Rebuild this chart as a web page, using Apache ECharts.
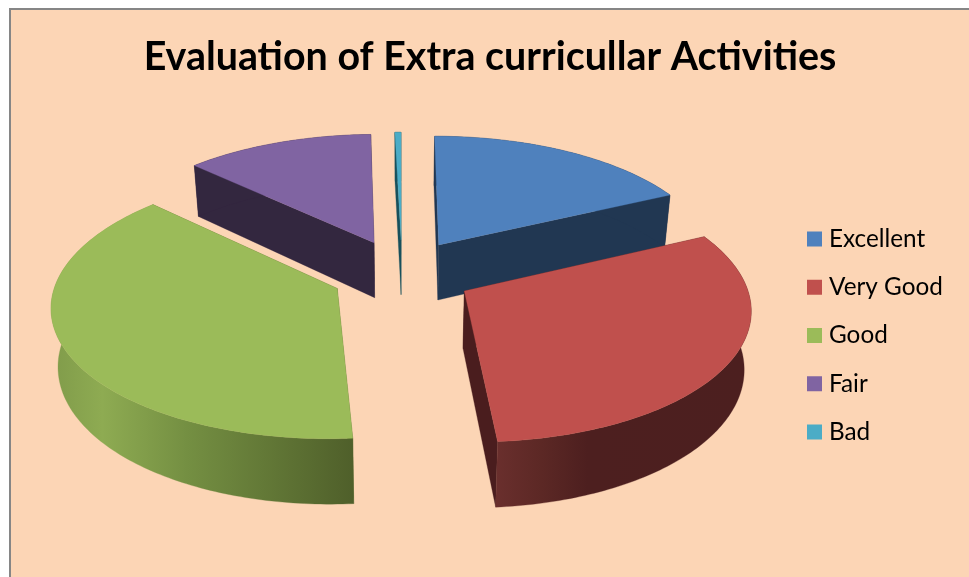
<!DOCTYPE html>
<html>
<head>
<meta charset="utf-8">
<style>html,body{margin:0;padding:0;background:#fff}#main{width:969px;height:577px}</style>
<script src="https://cdn.jsdelivr.net/npm/echarts@6/dist/echarts.min.js"></script>
</head>
<body>
<div id="main"></div>
<script>
const titleText = 'Evaluation of Extra curricullar Activities';
const categories = ['Excellent', 'Very Good', 'Good', 'Fair', 'Bad'];
const shares = [17.9, 30.9, 38.3, 12.5, 0.4];
const topColors = ['#4F81BD', '#C0504D', '#9BBB59', '#8064A2', '#4BACC6'];
const wallColors = ['#213752', '#4A1D1E', '#5A6C30', '#33273F', '#17505C'];
const drawOrder = [3, 4, 0, 2, 1];

const arcStops = {
  1: [[0, '#6A2F2D'], [0.18, '#5C2825'], [0.36, '#4D1F1F'], [1, '#4C1F1F']],
  2: [[0, '#809B4A'], [0.17, '#8EAB52'], [0.45, '#748F42'], [1, '#4F5F2A']]
};

// Perspective view of the exploded pie
const D = 2330, R = 278, RX = 0.993, EXPLODE_X = 70, EXPLODE_Y = 75, CX = 400, HORIZON = -790, H = 1052;
const THICK = 56, TAPER = 0.02, OFFX = 2, OFFY = 25;

function project(X, Y, low) {
  const s = D / (D - Y);
  const x = CX + X * s;
  if (!low) return [x, HORIZON + H * s];
  return [CX + (x - CX) * (1 - TAPER), HORIZON + (H + THICK) * s];
}

function renderSlice(index) {
  return function (params, api) {
    const total = shares.reduce((a, b) => a + b, 0);
    const before = shares.slice(0, index).reduce((a, b) => a + b, 0);
    const a0 = before / total * 2 * Math.PI;
    const a1 = a0 + api.value(0) / total * 2 * Math.PI;
    const mid = (a0 + a1) / 2;
    const ox = OFFX + EXPLODE_X * Math.sin(mid);
    const oy = OFFY - EXPLODE_Y * Math.cos(mid);
    const pt = (a, low) => project(ox + RX * R * Math.sin(a), oy - R * Math.cos(a), low);
    const apex = low => project(ox, oy, low);
    const steps = Math.max(2, Math.ceil((a1 - a0) / (Math.PI / 180)));
    const upper = [], lower = [];
    for (let i = 0; i <= steps; i++) {
      const a = a0 + (a1 - a0) * i / steps;
      upper.push(pt(a, false));
      lower.push(pt(a, true));
    }
    const poly = (points, fill) => ({
      type: 'polygon', shape: { points }, style: { fill, stroke: fill, lineWidth: 0.3 }
    });
    const wall = wallColors[index];
    const arcFill = arcStops[index]
      ? new echarts.graphic.LinearGradient(0, 0, 1, 0, arcStops[index].map(s => ({ offset: s[0], color: s[1] })))
      : wall;
    return {
      type: 'group',
      children: [
        poly([apex(false), upper[0], lower[0], apex(true)], wall),
        poly([apex(false), upper[steps], lower[steps], apex(true)], wall),
        poly(upper.concat(lower.slice().reverse()), arcFill),
        poly([apex(false)].concat(upper), topColors[index])
      ]
    };
  };
}

const chart = echarts.init(document.getElementById('main'), null, { renderer: 'canvas' });
chart.setOption({
  animation: false,
  backgroundColor: '#ffffff',
  graphic: [{
    type: 'rect', z: -10, silent: true,
    shape: { x: 10, y: 9, width: 970, height: 580 },
    style: { fill: '#FCD5B5', stroke: '#868686', lineWidth: 2 }
  }],
  title: {
    text: titleText, left: 485, top: 33, textAlign: 'center',
    textStyle: { fontFamily: 'Lato', fontWeight: 'bold', fontSize: 39.4, color: '#000' }
  },
  legend: {
    orient: 'vertical', left: 807, top: 227, icon: 'rect',
    itemWidth: 15, itemHeight: 15, itemGap: 24.25, padding: 0,
    selectedMode: false, data: categories,
    textStyle: { fontFamily: 'Lato', fontSize: 24.3, color: '#000', lineHeight: 24, padding: [0, 0, 0, 2] }
  },
  series: drawOrder.map((idx, order) => ({
    type: 'custom', name: categories[idx], coordinateSystem: 'none',
    z: 2 + order, silent: true, clip: false,
    itemStyle: { color: topColors[idx] },
    renderItem: renderSlice(idx),
    data: [[shares[idx]]]
  }))
});
</script>
</body>
</html>
